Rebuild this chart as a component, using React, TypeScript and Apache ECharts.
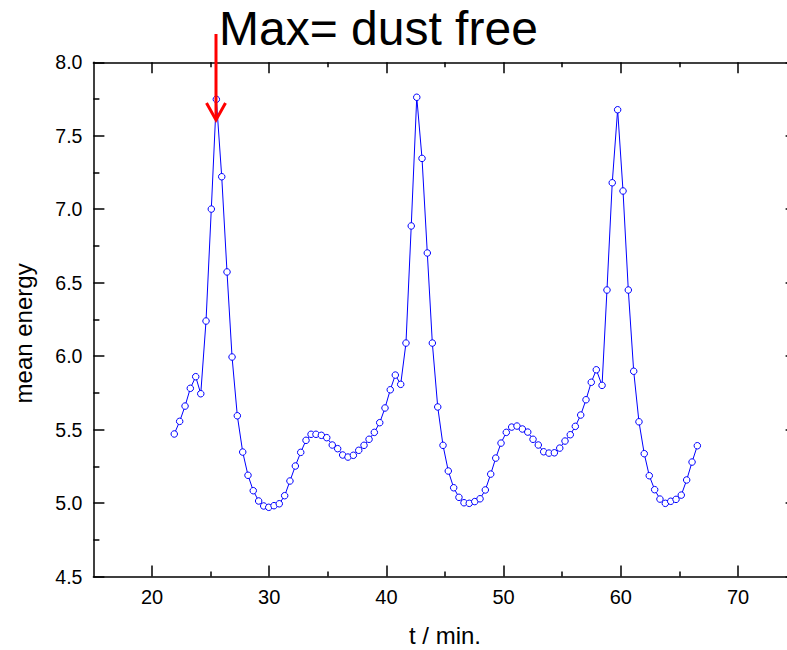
import React, { useEffect, useRef } from "react";
import * as echarts from "echarts";

const tMinutes: number[] = [
  21.9, 22.36, 22.82, 23.27, 23.73, 24.16, 24.61, 25.06, 25.49, 25.95,
  26.4, 26.83, 27.28, 27.74, 28.19, 28.64, 29.1, 29.53, 29.96, 30.41,
  30.86, 31.32, 31.77, 32.23, 32.69, 33.14, 33.57, 33.99, 34.45, 34.91,
  35.38, 35.84, 36.27, 36.72, 37.18, 37.64, 38.09, 38.52, 38.97, 39.43,
  39.88, 40.33, 40.76, 41.22, 41.67, 42.12, 42.59, 43.04, 43.49, 43.92,
  44.38, 44.83, 45.28, 45.74, 46.19, 46.62, 47.07, 47.54, 47.99, 48.44,
  48.9, 49.33, 49.78, 50.23, 50.69, 51.14, 51.6, 52.06, 52.51, 52.96,
  53.42, 53.87, 54.33, 54.79, 55.24, 55.69, 56.12, 56.58, 57.03, 57.48,
  57.91, 58.4, 58.82, 59.27, 59.73, 60.19, 60.64, 61.1, 61.55, 62.0,
  62.43, 62.89, 63.34, 63.8, 64.26, 64.71, 65.16, 65.62, 66.08, 66.53,
];

const meanEnergy: number[] = [
  5.47, 5.556, 5.66, 5.781, 5.86, 5.744, 6.239, 7.001, 7.748, 7.221,
  6.573, 5.994, 5.594, 5.347, 5.189, 5.084, 5.014, 4.98, 4.971, 4.982,
  4.995, 5.05, 5.15, 5.252, 5.345, 5.427, 5.468, 5.468, 5.461, 5.445,
  5.395, 5.37, 5.327, 5.313, 5.325, 5.359, 5.393, 5.434, 5.481, 5.547,
  5.647, 5.771, 5.871, 5.808, 6.089, 6.886, 7.762, 7.346, 6.702, 6.089,
  5.654, 5.393, 5.218, 5.104, 5.039, 5.002, 4.998, 5.01, 5.029, 5.089,
  5.197, 5.306, 5.408, 5.481, 5.517, 5.524, 5.504, 5.483, 5.434, 5.395,
  5.349, 5.34, 5.342, 5.374, 5.422, 5.465, 5.522, 5.599, 5.703, 5.822,
  5.907, 5.801, 6.45, 7.18, 7.677, 7.124, 6.45, 5.897, 5.553, 5.336,
  5.186, 5.091, 5.027, 4.998, 5.012, 5.025, 5.054, 5.157, 5.279, 5.39,
];

const xMajorTicks: number[] = [20, 30, 40, 50, 60, 70];
const xMinorTicks: number[] = [25, 35, 45, 55, 65];
const titleText = "Max= dust free";
const xName = "t / min.";
const yName = "mean energy";
const xRange = [15, 75];
const yRange = [4.5, 8.0];

const FONT = "'Liberation Sans', Arial, Helvetica, sans-serif";
const CHART_W = 800;

export default function App() {
  const ref = useRef<HTMLDivElement>(null);

  useEffect(() => {
    document.body.style.margin = "0";
    if (!ref.current) return;
    const chart = echarts.init(ref.current, undefined, { renderer: "svg" });
    const tickStyle = { color: "#000", width: 1.5 };
    const axisLineStyle = { color: "#000", width: 1.5 };
    const baseX = {
      type: "value" as const,
      min: xRange[0],
      max: xRange[1],
      splitLine: { show: false },
      minorTick: { show: false },
    };
    const majorX = (pos: "bottom" | "top", labels: boolean, extra: any = {}) => ({
      ...baseX,
      position: pos,
      axisLine: { show: true, onZero: false, lineStyle: axisLineStyle },
      axisTick: { show: true, inside: true, length: 11, customValues: xMajorTicks, lineStyle: tickStyle },
      axisLabel: labels
        ? { show: true, margin: 10, fontFamily: FONT, fontSize: 20, color: "#000", customValues: xMajorTicks }
        : { show: false },
      ...extra,
    });
    const minorX = (pos: "bottom" | "top") => ({
      ...baseX,
      position: pos,
      axisLine: { show: false, onZero: false },
      axisTick: { show: true, inside: true, length: 5, customValues: xMinorTicks, lineStyle: tickStyle },
      axisLabel: { show: false },
    });
    const commonY = {
      type: "value" as const,
      min: yRange[0],
      max: yRange[1],
      interval: 0.5,
      splitLine: { show: false },
      axisLine: { show: true, onZero: false, lineStyle: axisLineStyle },
      axisTick: { show: true, inside: true, length: 11, lineStyle: tickStyle },
      minorTick: { show: true, splitNumber: 2, length: 6, lineStyle: tickStyle },
    };
    chart.setOption({
      animation: false,
      backgroundColor: "#fff",
      textStyle: { fontFamily: FONT },
      title: {
        text: titleText,
        left: 219,
        top: 4,
        padding: 0,
        textStyle: { fontFamily: FONT, fontSize: 48, fontWeight: "normal", color: "#000" },
      },
      grid: {
        left: 93.4,
        right: CHART_W - 796.6,
        top: 62.3,
        bottom: 73.5,
        containLabel: false,
        outerBoundsMode: "none",
      },
      xAxis: [
        majorX("bottom", true, {
          name: xName,
          nameLocation: "middle",
          nameGap: 47,
          nameTextStyle: { fontFamily: FONT, fontSize: 24, color: "#000" },
        }),
        majorX("top", false),
        minorX("bottom"),
        minorX("top"),
      ],
      yAxis: [
        {
          ...commonY,
          position: "left",
          name: yName,
          nameLocation: "middle",
          nameGap: 58,
          nameTextStyle: { fontFamily: FONT, fontSize: 24, color: "#000", padding: [0, 28, 0, 0] },
          axisLabel: {
            show: true,
            margin: 11,
            fontFamily: FONT,
            fontSize: 19.5,
            color: "#000",
            formatter: (v: number) => v.toFixed(1),
          },
        },
        {
          ...commonY,
          position: "right",
          axisLabel: { show: false },
        },
      ],
      series: [
        {
          type: "line",
          xAxisIndex: 0,
          yAxisIndex: 0,
          data: tMinutes.map((t, i) => [t, meanEnergy[i]]),
          symbol: "circle",
          symbolSize: 6.5,
          showSymbol: true,
          lineStyle: { color: "#0000ff", width: 1 },
          itemStyle: { color: "#fff", borderColor: "#0000ff", borderWidth: 1 },
          z: 3,
        },
      ],
      graphic: [
        {
          type: "line",
          shape: { x1: 216, y1: 34, x2: 216, y2: 119 },
          style: { stroke: "#ff0000", lineWidth: 3 },
          z: 10,
        },
        {
          type: "polyline",
          shape: { points: [[206.5, 103], [216, 120], [225.5, 103]] },
          style: { stroke: "#ff0000", lineWidth: 3, fill: "none" },
          z: 10,
        },
      ],
    });
    return () => chart.dispose();
  }, []);

  return (
    <div style={{ width: 787, height: 650, overflow: "hidden", position: "relative" }}>
      <div ref={ref} style={{ width: CHART_W, height: 650 }} />
    </div>
  );
}
